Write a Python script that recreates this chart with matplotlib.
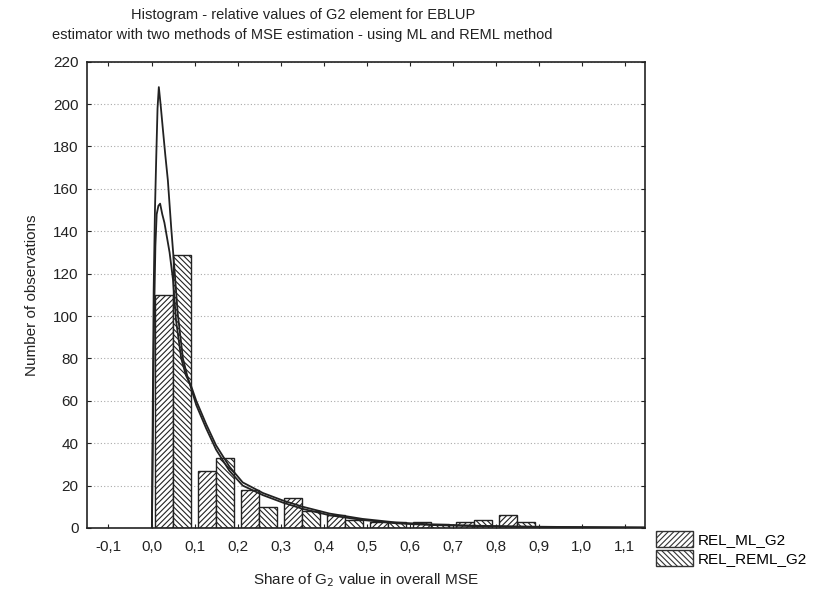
import numpy as np
import matplotlib
matplotlib.use("Agg")
import matplotlib.pyplot as plt
from matplotlib.patches import Patch

plt.rcParams['font.family'] = ['Liberation Sans', 'DejaVu Sans']
plt.rcParams['hatch.linewidth'] = 0.8

# --- Data ---
bin_centers = [0.05, 0.15, 0.25, 0.35, 0.45, 0.55, 0.65, 0.75, 0.85]
ml_counts = [110, 27, 18, 14, 6, 3, 3, 3, 6]
reml_counts = [129, 33, 10, 8, 4, 3, 2, 4, 3]

# fitted curves
curve_a_x = [0.001, 0.003, 0.005, 0.008, 0.011, 0.014, 0.017, 0.021, 0.026, 0.032,
             0.038, 0.046, 0.053, 0.061, 0.073, 0.084, 0.092, 0.104, 0.127, 0.15,
             0.181, 0.212, 0.228, 0.259, 0.305, 0.352, 0.414, 0.49, 0.569, 0.65,
             0.75, 0.85, 0.95, 1.05, 1.15]
curve_a_y = [0, 60, 112, 150, 175, 198, 208, 200, 189, 176,
             164, 141, 123, 101, 80, 71, 66, 58, 47, 37,
             27, 20, 18.5, 15.5, 12, 9, 6, 3.8, 2.2, 1.4,
             0.9, 0.6, 0.4, 0.3, 0.2]
curve_b_x = [0.001, 0.003, 0.006, 0.009, 0.012, 0.016, 0.02, 0.025, 0.03, 0.036,
             0.042, 0.05, 0.057, 0.069, 0.08, 0.092, 0.104, 0.127, 0.15, 0.181,
             0.212, 0.259, 0.305, 0.352, 0.414, 0.49, 0.569, 0.65, 0.75, 0.85,
             0.95, 1.05, 1.15]
curve_b_y = [0, 40, 100, 133, 148, 152, 153, 148, 144, 137,
             130, 117, 98, 80, 72, 67, 60, 49, 39, 29,
             21.5, 16.5, 13, 10, 6.8, 4.3, 2.6, 1.7, 1.1, 0.7,
             0.5, 0.35, 0.25]

xticks = [-0.1, 0.0, 0.1, 0.2, 0.3, 0.4, 0.5, 0.6, 0.7, 0.8, 0.9, 1.0, 1.1]
xtick_labels = ['-0,1', '0,0', '0,1', '0,2', '0,3', '0,4', '0,5', '0,6',
                '0,7', '0,8', '0,9', '1,0', '1,1']
yticks = list(range(0, 221, 20))

# --- Plot ---
fig = plt.figure(figsize=(8.16, 5.96), dpi=100)
ax = fig.add_axes([0.1066, 0.1141, 0.6838, 0.7825])

bw = 0.042
centers = np.array(bin_centers)
ax.bar(centers - bw / 2, ml_counts, width=bw, facecolor='white', edgecolor='#222222',
       hatch='//////', linewidth=1.0, zorder=2)
ax.bar(centers + bw / 2, reml_counts, width=bw, facecolor='white', edgecolor='#222222',
       hatch='\\\\\\\\\\\\', linewidth=1.0, zorder=2)

ax.plot(curve_a_x, curve_a_y, color='#222222', lw=1.3, zorder=3)
ax.plot(curve_b_x, curve_b_y, color='#222222', lw=1.3, zorder=3)

ax.set_xlim(-0.15, 1.147)
ax.set_ylim(0, 220)
ax.set_xticks(xticks)
ax.set_xticklabels(xtick_labels)
ax.set_yticks(yticks)
ax.tick_params(direction='in', top=True, right=True, length=3, labelsize=11,
               colors='#222222')
ax.tick_params(axis='x', pad=9)
ax.tick_params(axis='y', pad=6)
ax.yaxis.grid(True, linestyle=(0, (1, 2)), color='#aaaaaa', lw=0.8, zorder=0)
ax.set_axisbelow(True)
for s in ax.spines.values():
    s.set_linewidth(1.2)
    s.set_color('#222222')

ax.set_xlabel('Share of G$_2$ value in overall MSE', fontsize=11, labelpad=12,
              color='#222222')
ax.set_ylabel('Number of observations', fontsize=11, labelpad=10, color='#222222')

fig.text(0.371, 0.975, 'Histogram - relative values of G2 element for EBLUP',
         ha='center', va='center', fontsize=10.5, color='#222222')
fig.text(0.371, 0.942, 'estimator with two methods of MSE estimation - using ML and REML method',
         ha='center', va='center', fontsize=10.5, color='#222222')

handles = [Patch(facecolor='white', edgecolor='#333333', hatch='//////', label='REL_ML_G2'),
           Patch(facecolor='white', edgecolor='#333333', hatch='\\\\\\\\\\\\', label='REL_REML_G2')]
fig.legend(handles=handles, loc='upper left', bbox_to_anchor=(0.793, 0.125),
           frameon=False, fontsize=11, handlelength=2.4, handleheight=1.3,
           handletextpad=0.3, labelspacing=0.15, borderpad=0.1)

fig.savefig('out.png', dpi=100)
